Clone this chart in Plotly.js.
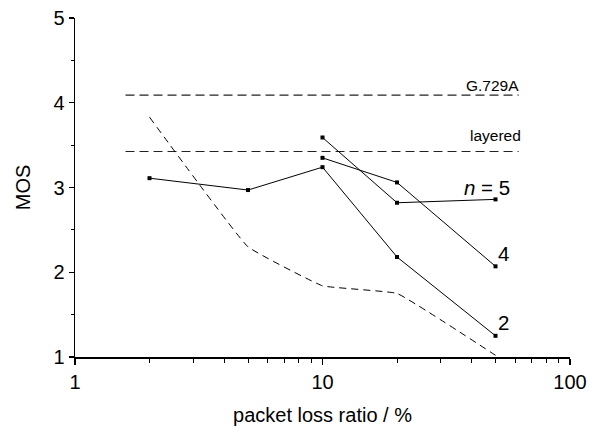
<!DOCTYPE html>
<html>
<head>
<meta charset="utf-8">
<script src="https://cdn.plot.ly/plotly-3.0.1.min.js"></script>
<style>html,body{margin:0;padding:0;background:#fff;}#chart{width:597px;height:436px;}</style>
</head>
<body>
<div id="chart"></div>
<script>
// packet loss ratio (%)
const lossAll = [2, 5, 10, 20, 50];
const lossHigh = [10, 20, 50];
// MOS values
const mosN2 = [3.11, 2.97, 3.24, 2.18, 1.25];
const mosN4 = [3.35, 3.06, 2.07];
const mosN5 = [3.59, 2.82, 2.86];
const mosDashed = [3.83, 2.30, 1.84, 1.75, 1.02];
// reference levels
const refX = [1.6, 62];
const mosG729A = 4.09;
const mosLayered = 3.425;
// labels
const refLabels = ["G.729A", "layered"];
const nLabels = ["<i>n</i> = 5", "4", "2"];
const xTickVals = [1, 10, 100];
const xTickText = ["1", "10", "100"];
const xMinorVals = [2,3,4,5,6,7,8,9,20,30,40,50,60,70,80,90];
const yTickVals = [1, 2, 3, 4, 5];
const yTickText = ["1", "2", "3", "4", "5"];

const solid = {color: '#000', width: 1};
const mk = {symbol: 'square', size: 4, color: '#000'};
const traces = [
  {x: refX, y: [mosG729A, mosG729A], mode: 'lines', line: {color: '#222', width: 1.2, dash: '9px,5px'}},
  {x: refX, y: [mosLayered, mosLayered], mode: 'lines', line: {color: '#222', width: 1.2, dash: '9px,5px'}},
  {x: lossAll, y: mosDashed, mode: 'lines', line: {color: '#000', width: 1, dash: '7px,5px', shape: 'spline', smoothing: 0.25}},
  {x: lossAll, y: mosN2, mode: 'lines+markers', line: solid, marker: mk},
  {x: lossHigh, y: mosN4, mode: 'lines+markers', line: solid, marker: mk},
  {x: lossHigh, y: mosN5, mode: 'lines+markers', line: solid, marker: mk}
];

const font = {family: 'Liberation Sans, Arial, sans-serif', color: '#000'};
const layout = {
  width: 597, height: 436,
  margin: {l: 75, r: 27, t: 18, b: 79, pad: 0},
  paper_bgcolor: '#fff', plot_bgcolor: '#fff',
  showlegend: false,
  font: Object.assign({size: 20}, font),
  xaxis: {
    type: 'log', range: [0, 2],
    tickmode: 'array', tickvals: xTickVals, ticktext: xTickText,
    ticks: 'outside', ticklen: 6, tickwidth: 1.3, tickcolor: '#000',
    minor: {tickmode: 'array', tickvals: xMinorVals, ticks: 'outside', ticklen: 4, tickwidth: 1, tickcolor: '#000', showgrid: false},
    showline: true, linecolor: '#000', linewidth: 1.5, mirror: false,
    showgrid: false, zeroline: false,
    tickfont: Object.assign({size: 20}, font),
    title: {text: 'packet loss ratio / %', font: Object.assign({size: 20}, font), standoff: 16}
  },
  yaxis: {
    range: [1, 5],
    tickmode: 'array', tickvals: yTickVals, ticktext: yTickText,
    ticks: 'outside', ticklen: 5, tickwidth: 1.3, tickcolor: '#000',
    minor: {dtick: 0.5, ticks: 'outside', ticklen: 3, tickwidth: 1, tickcolor: '#000', showgrid: false},
    showline: true, linecolor: '#000', linewidth: 1.5, mirror: false,
    showgrid: false, zeroline: false,
    tickfont: Object.assign({size: 20}, font),
    title: {text: 'MOS', font: Object.assign({size: 20}, font), standoff: 17}
  },
  annotations: [
    {x: Math.log10(48.8), y: 4.20, xref: 'x', yref: 'y', text: refLabels[0], showarrow: false, font: Object.assign({size: 15.5}, font), xanchor: 'center', yanchor: 'middle'},
    {x: Math.log10(50.2), y: 3.61, xref: 'x', yref: 'y', text: refLabels[1], showarrow: false, font: Object.assign({size: 15.5}, font), xanchor: 'center', yanchor: 'middle'},
    {x: 1.663, y: 3.0, xref: 'x', yref: 'y', text: nLabels[0], showarrow: false, font: Object.assign({size: 20.5}, font), xanchor: 'center', yanchor: 'middle'},
    {x: 1.7325, y: 2.218, xref: 'x', yref: 'y', text: nLabels[1], showarrow: false, font: Object.assign({size: 20.5}, font), xanchor: 'center', yanchor: 'middle'},
    {x: 1.7325, y: 1.41, xref: 'x', yref: 'y', text: nLabels[2], showarrow: false, font: Object.assign({size: 20.5}, font), xanchor: 'center', yanchor: 'middle'}
  ]
};
Plotly.newPlot('chart', traces, layout, {staticPlot: true, displayModeBar: false});
</script>
</body>
</html>
